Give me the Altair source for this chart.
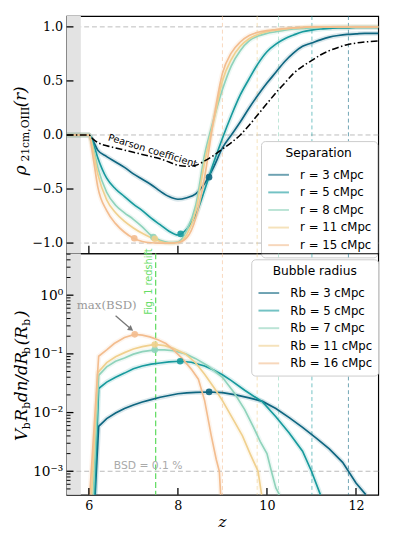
import altair as alt
import pandas as pd

# ---------------- data ----------------
Z_TOP = [5.5, 6.0, 6.1, 6.2, 6.4, 6.6, 6.8, 7.0, 7.2, 7.4, 7.6, 7.8, 8.0, 8.2, 8.4, 8.6, 8.8, 9.0,
         9.2, 9.4, 9.6, 9.8, 10.0, 10.2, 10.4, 10.6, 10.8, 11.0, 11.2, 11.4, 11.6, 11.8, 12.0, 12.2, 12.5]
PEARSON = [0, 0, -0.04, -0.07, -0.10, -0.12, -0.14, -0.16, -0.18, -0.20, -0.22, -0.25, -0.28, -0.29,
           -0.28, -0.24, -0.19, -0.13, -0.07, 0.0, 0.09, 0.19, 0.29, 0.39, 0.48, 0.57, 0.635, 0.687,
           0.74, 0.78, 0.81, 0.835, 0.85, 0.86, 0.87]
RHO_R3 = [0, 0, -0.06, -0.14, -0.20, -0.25, -0.30, -0.36, -0.41, -0.46, -0.52, -0.57, -0.595, -0.58,
          -0.545, -0.45, -0.30, -0.12, 0.0, 0.12, 0.25, 0.37, 0.48, 0.58, 0.68, 0.76, 0.82, 0.85,
          0.88, 0.905, 0.92, 0.93, 0.935, 0.94, 0.94]
RHO_R5 = [0, 0, -0.08, -0.21, -0.40, -0.50, -0.57, -0.64, -0.70, -0.77, -0.83, -0.89, -0.925, -0.87,
          -0.74, -0.51, -0.26, -0.03, 0.18, 0.37, 0.52, 0.66, 0.77, 0.84, 0.89, 0.925, 0.955, 0.97,
          0.98, 0.985, 0.99, 0.99, 0.995, 0.995, 0.995]
RHO_R8 = [0, 0, -0.12, -0.30, -0.53, -0.65, -0.72, -0.78, -0.85, -0.93, -0.975, -0.995, -0.99, -0.88,
          -0.65, -0.18, 0.14, 0.42, 0.64, 0.78, 0.87, 0.915, 0.94, 0.955, 0.97, 0.98, 0.985, 0.99,
          0.995, 1.0, 1.0, 1.0, 1.0, 1.0, 1.0]
RHO_R11 = [0, 0, -0.15, -0.36, -0.60, -0.72, -0.80, -0.86, -0.91, -0.95, -0.985, -1.0, -0.995, -0.92,
           -0.70, -0.25, 0.12, 0.50, 0.70, 0.82, 0.89, 0.93, 0.955, 0.97, 0.98, 0.99, 0.995, 1.0,
           1.0, 1.0, 1.0, 1.0, 1.0, 1.0, 1.0]
RHO_R15 = [0, 0, -0.22, -0.48, -0.70, -0.82, -0.90, -0.955, -0.985, -0.997, -1.0, -1.0, -0.995, -0.95,
           -0.77, -0.39, 0.14, 0.57, 0.76, 0.86, 0.92, 0.95, 0.965, 0.975, 0.985, 0.99, 0.995, 1.0,
           1.0, 1.0, 1.0, 1.0, 1.0, 1.0, 1.0]
TOP_LABELS = ["r = 3 cMpc", "r = 5 cMpc", "r = 8 cMpc", "r = 11 cMpc", "r = 15 cMpc"]
TOP_DOT_Z = [8.7, 8.06, 7.45, 7.48, 7.02]
TOP_DOT_V = [-0.39, -0.915, -0.945, -0.96, -0.955]

RB3_Z = [6.14, 6.22, 6.4, 6.6, 6.8, 7.0, 7.2, 7.4, 7.6, 7.8, 8.0, 8.2, 8.4, 8.7, 9.0, 9.3, 9.6, 9.9,
         10.2, 10.5, 10.8, 11.1, 11.4, 11.7, 12.0, 12.22]
RB3_V = [4.0e-4, 0.0058, 0.0079, 0.0098, 0.0117, 0.0135, 0.0151, 0.0166, 0.0182, 0.0195, 0.0209,
         0.0217, 0.0221, 0.0224, 0.0219, 0.0200, 0.0178, 0.0155, 0.0117, 0.0082, 0.0056, 0.0037,
         0.0024, 0.00142, 0.00063, 0.0004]
RB5_Z = [6.13, 6.22, 6.4, 6.6, 6.8, 7.0, 7.2, 7.4, 7.6, 7.8, 8.05, 8.3, 8.6, 8.8, 9.0, 9.2, 9.5, 9.9,
         10.2, 10.5, 10.8, 11.0, 11.2]
RB5_V = [4.0e-4, 0.0257, 0.033, 0.040, 0.047, 0.056, 0.062, 0.067, 0.070, 0.073, 0.075, 0.072, 0.062,
         0.053, 0.044, 0.035, 0.024, 0.0152, 0.0085, 0.0045, 0.0022, 0.0010, 0.0004]
RB7_Z = [6.1, 6.22, 6.4, 6.6, 6.8, 7.0, 7.2, 7.48, 7.7, 7.9, 8.17, 8.4, 8.68, 9.0, 9.26, 9.5, 9.7,
         9.85, 10.0, 10.1, 10.2, 10.28]
RB7_V = [4.0e-4, 0.043, 0.060, 0.075, 0.085, 0.099, 0.109, 0.117, 0.117, 0.113, 0.100, 0.083, 0.062,
         0.040, 0.022, 0.0112, 0.0056, 0.0032, 0.0020, 0.0010, 0.00052, 0.0004]
RB11_Z = [6.06, 6.2, 6.4, 6.6, 6.8, 7.0, 7.2, 7.48, 7.7, 7.9, 8.17, 8.4, 8.6, 8.82, 9.0, 9.26, 9.45,
          9.62, 9.8, 9.88]
RB11_V = [4.0e-4, 0.048, 0.071, 0.089, 0.105, 0.121, 0.133, 0.145, 0.138, 0.124, 0.100, 0.070, 0.045,
          0.026, 0.016, 0.0072, 0.0040, 0.0020, 0.0010, 0.0004]
RB16_Z = [6.02, 6.22, 6.4, 6.57, 6.8, 7.03, 7.2, 7.37, 7.55, 7.73, 7.9, 8.1, 8.3, 8.46, 8.6, 8.75,
          8.86, 8.93, 8.96]
RB16_V = [4.0e-4, 0.091, 0.117, 0.150, 0.190, 0.215, 0.209, 0.195, 0.174, 0.150, 0.117, 0.083, 0.055,
          0.037, 0.016, 0.0040, 0.0016, 0.0010, 0.0004]
BOT_LABELS = ["Rb = 3 cMpc", "Rb = 5 cMpc", "Rb = 7 cMpc", "Rb = 11 cMpc", "Rb = 16 cMpc"]
BOT_DOT_Z = [8.7, 8.05, 7.48, 7.48, 7.03]
BOT_DOT_V = [0.0225, 0.075, 0.117, 0.145, 0.215]

COLORS = ["#0e6680", "#179a9d", "#8fd3bb", "#f0d08e", "#f3bd8f"]
VLINE_Z = [9.0, 9.78, 10.26, 11.01, 11.83]
VLINE_C = ["#f3bd8f", "#f0d08e", "#8fd3bb", "#179a9d", "#0e6680"]

X_TICKS = [6, 8, 10, 12]
TOP_Y_TICKS = [-1.0, -0.5, 0.0, 0.5, 1.0]
TOP_HLINES = [1.0, 0.0, -1.0]
BOT_Y_TICKS = [0.001, 0.01, 0.1, 1.0]
BOT_Y_MINOR = [5e-4, 6e-4, 7e-4, 8e-4, 9e-4,
               2e-3, 3e-3, 4e-3, 5e-3, 6e-3, 7e-3, 8e-3, 9e-3,
               2e-2, 3e-2, 4e-2, 5e-2, 6e-2, 7e-2, 8e-2, 9e-2,
               0.2, 0.3, 0.4, 0.5, 0.6, 0.7, 0.8, 0.9,
               2.0, 3.0, 4.0, 5.0]
BAND = [5.5, 5.82]
FIG1_Z = 7.5
BSD_LEVEL = 0.001

# ---------------- layout ----------------
W = 319
H_TOP = 243
H_BOT = 247

xs = alt.Scale(domain=[5.5, 12.5], nice=False, zero=False)
ys_top = alt.Scale(domain=[-1.096, 1.1], nice=False, zero=False)
ys_bot = alt.Scale(type="log", domain=[3.98e-4, 5.14], nice=False)
col_top = alt.Scale(domain=TOP_LABELS, range=COLORS)
col_bot = alt.Scale(domain=BOT_LABELS, range=COLORS)

SERIF = "DejaVu Serif"
SANS = "DejaVu Sans"

TOP_YAXIS = alt.Axis(values=TOP_Y_TICKS, format=".1f", ticks=False, domain=False,
                     grid=False, labelFont=SERIF, labelFontSize=13, labelColor="black",
                     labelPadding=4, title=None)
BOT_XAXIS = alt.Axis(values=X_TICKS, format="d", ticks=False, domain=False, grid=False,
                     labelFont=SERIF, labelFontSize=13, labelColor="black",
                     labelPadding=5, title=None)
BOT_YAXIS = alt.Axis(values=BOT_Y_TICKS, ticks=False, domain=False, grid=False,
                     labelExpr="datum.value >= 0.5 ? '10⁰' : datum.value >= 0.05 ? '10⁻¹' : datum.value >= 0.005 ? '10⁻²' : '10⁻³'",
                     labelFont=SERIF, labelFontSize=14, labelColor="black",
                     labelPadding=4, title=None)


def XT(f):
    return alt.X(f, scale=xs, axis=None)


def XB(f):
    return alt.X(f, scale=xs, axis=BOT_XAXIS)


def YT(f):
    return alt.Y(f, scale=ys_top, axis=TOP_YAXIS)


def YB(f):
    return alt.Y(f, scale=ys_bot, axis=BOT_YAXIS)


one = pd.DataFrame({"a": [0]})


def label_piece(text, x, y, size, italic, align="left", angle=270):
    return alt.Chart(one).mark_text(
        text=text, angle=angle, align=align, baseline="alphabetic", font=SERIF,
        fontSize=size, fontStyle="italic" if italic else "normal", color="black"
    ).encode(x=alt.value(x), y=alt.value(y))


def legend(title, lx, ly):
    return alt.Legend(
        title=title, orient="none", legendX=lx, legendY=ly, fillColor="white",
        strokeColor="#cccccc", padding=6, cornerRadius=4, symbolType="stroke",
        symbolStrokeWidth=2, symbolSize=450, labelFont=SANS, labelFontSize=12,
        titleFont=SANS, titleFontSize=12.5, titleFontWeight="normal", titleAnchor="middle",
        rowPadding=-2, labelOffset=10, titlePadding=4, labelColor="black", titleColor="black"
    )


LEG_TOP = legend("Separation", 199, 128)
LEG_BOT = legend("Bubble radius", 189, 6)

# ---------------- top panel ----------------
top_rows = []
for lab, vals in zip(TOP_LABELS, [RHO_R3, RHO_R5, RHO_R8, RHO_R11, RHO_R15]):
    for z, v in zip(Z_TOP, vals):
        top_rows.append({"z": z, "v": v, "label": lab})
df_top = pd.DataFrame(top_rows)
df_pear = pd.DataFrame({"z": Z_TOP, "v": PEARSON})
df_vl = pd.DataFrame({"z": VLINE_Z, "c": VLINE_C})
df_band = pd.DataFrame({"z0": [BAND[0]], "z1": [BAND[1]]})

band_t = alt.Chart(df_band).mark_rect(color="#e3e3e3").encode(
    x=XT("z0:Q"), x2="z1:Q", y=alt.value(0), y2=alt.value(H_TOP))
hl_t = alt.Chart(pd.DataFrame({"v": TOP_HLINES})).mark_rule(
    color="#bbbbbb", strokeDash=[5, 3], strokeWidth=1).encode(y=YT("v:Q"))
vl_t = alt.Chart(df_vl).mark_rule(strokeDash=[4, 3], strokeWidth=1, opacity=0.6).encode(
    x=XT("z:Q"), color=alt.Color("c:N", scale=None))
halo_t = alt.Chart(df_top).mark_line(strokeWidth=5, opacity=0.15, interpolate="monotone").encode(
    x=XT("z:Q"), y=YT("v:Q"), color=alt.Color("label:N", scale=col_top, legend=LEG_TOP))
lines_t = alt.Chart(df_top).mark_line(strokeWidth=1.7, interpolate="monotone").encode(
    x=XT("z:Q"), y=YT("v:Q"), color=alt.Color("label:N", scale=col_top, legend=LEG_TOP))
pear_t = alt.Chart(df_pear).mark_line(color="black", strokeWidth=1.6,
                                      strokeDash=[7, 2.5, 1.5, 2.5],
                                      interpolate="monotone").encode(x=XT("z:Q"), y=YT("v:Q"))
dots_t = alt.Chart(pd.DataFrame({"z": TOP_DOT_Z, "v": TOP_DOT_V, "c": COLORS})).mark_circle(
    size=45, opacity=0.9).encode(x=XT("z:Q"), y=YT("v:Q"), color=alt.Color("c:N", scale=None))
ptxt_t = alt.Chart(pd.DataFrame({"z": [7.43], "v": [-0.148]})).mark_text(
    text="Pearson coefficient", angle=17, font=SANS, fontSize=10, color="black").encode(
    x=XT("z:Q"), y=YT("v:Q"))
ytick_t = alt.Chart(pd.DataFrame({"v": TOP_Y_TICKS})).mark_rule(color="black", strokeWidth=1.3).encode(
    y=YT("v:Q"), x=alt.value(0), x2=alt.value(7))
xtick_t = alt.Chart(pd.DataFrame({"v": X_TICKS})).mark_rule(color="black", strokeWidth=1.3).encode(
    x=XT("v:Q"), y=alt.value(H_TOP - 8), y2=alt.value(H_TOP))
title_t = [
    label_piece("ρ", -42, 163, 17, True),
    label_piece("21cm,OIII", -38, 149, 11, False),
    label_piece("(r)", -42, 72, 17, True, align="right"),
]

top = alt.layer(hl_t, band_t, vl_t, halo_t, lines_t, pear_t, dots_t, ptxt_t, ytick_t, xtick_t,
                *title_t).properties(width=W, height=H_TOP)

# ---------------- bottom panel ----------------
bot_rows = []
for lab, zs, vs in zip(BOT_LABELS, [RB3_Z, RB5_Z, RB7_Z, RB11_Z, RB16_Z],
                       [RB3_V, RB5_V, RB7_V, RB11_V, RB16_V]):
    for z, v in zip(zs, vs):
        bot_rows.append({"z": z, "v": v, "label": lab})
df_bot = pd.DataFrame(bot_rows)

band_b = alt.Chart(df_band).mark_rect(color="#e3e3e3").encode(
    x=XB("z0:Q"), x2="z1:Q", y=alt.value(0), y2=alt.value(H_BOT))
hl_b = alt.Chart(pd.DataFrame({"v": [BSD_LEVEL]})).mark_rule(
    color="#bbbbbb", strokeDash=[5, 3], strokeWidth=1.2).encode(y=YB("v:Q"))
vl_b = alt.Chart(df_vl).mark_rule(strokeDash=[4, 3], strokeWidth=1, opacity=0.6).encode(
    x=XB("z:Q"), color=alt.Color("c:N", scale=None))
fig1_b = alt.Chart(pd.DataFrame({"z": [FIG1_Z]})).mark_rule(
    color="#66dd66", strokeDash=[6, 3], strokeWidth=1.3).encode(x=XB("z:Q"))
halo_b = alt.Chart(df_bot).mark_line(strokeWidth=5, opacity=0.15).encode(
    x=XB("z:Q"), y=YB("v:Q"), color=alt.Color("label:N", scale=col_bot, legend=LEG_BOT))
lines_b = alt.Chart(df_bot).mark_line(strokeWidth=1.7).encode(
    x=XB("z:Q"), y=YB("v:Q"), color=alt.Color("label:N", scale=col_bot, legend=LEG_BOT))
dots_b = alt.Chart(pd.DataFrame({"z": BOT_DOT_Z, "v": BOT_DOT_V, "c": COLORS})).mark_circle(
    size=45, opacity=0.9).encode(x=XB("z:Q"), y=YB("v:Q"), color=alt.Color("c:N", scale=None))
bsd_txt = alt.Chart(pd.DataFrame({"z": [7.33], "v": [0.00124]})).mark_text(
    text="BSD = 0.1 %", font=SANS, fontSize=11, color="#aaaaaa", baseline="middle").encode(
    x=XB("z:Q"), y=YB("v:Q"))
max_txt = alt.Chart(pd.DataFrame({"z": [6.4], "v": [0.676]})).mark_text(
    text="max(BSD)", font=SERIF, fontSize=12, color="#999999", baseline="middle").encode(
    x=XB("z:Q"), y=YB("v:Q"))
arrow_l = alt.Chart(pd.DataFrame({"z": [6.6], "v": [0.445], "z2": [6.92], "v2": [0.275]})).mark_rule(
    color="#777777", strokeWidth=1.3).encode(x=XB("z:Q"), y=YB("v:Q"), x2="z2:Q", y2="v2:Q")
arrow_h = alt.Chart(pd.DataFrame({"z": [6.93], "v": [0.27]})).mark_point(
    shape="triangle", filled=True, size=40, angle=127, color="#777777", opacity=1).encode(
    x=XB("z:Q"), y=YB("v:Q"))
fig1_txt = alt.Chart(pd.DataFrame({"z": [FIG1_Z], "v": [1.7]})).mark_text(
    text="Fig. 1 redshift", angle=270, font=SANS, fontSize=10, color="#66dd66",
    baseline="bottom", dy=-2).encode(x=XB("z:Q"), y=YB("v:Q"))
ytick_b = alt.Chart(pd.DataFrame({"v": BOT_Y_TICKS})).mark_rule(color="black", strokeWidth=1.3).encode(
    y=YB("v:Q"), x=alt.value(0), x2=alt.value(7))
ymin_b = alt.Chart(pd.DataFrame({"v": BOT_Y_MINOR})).mark_rule(
    color="black", strokeWidth=1).encode(y=YB("v:Q"), x=alt.value(0), x2=alt.value(4))
xtick_b = alt.Chart(pd.DataFrame({"v": X_TICKS})).mark_rule(color="black", strokeWidth=1.3).encode(
    x=XB("v:Q"), y=alt.value(H_BOT - 7), y2=alt.value(H_BOT))
title_b = [
    label_piece("V", -41, 192, 17, True),
    label_piece("b", -37, 180, 11, False),
    label_piece("R", -41, 172, 17, True),
    label_piece("b", -37, 159, 11, False),
    label_piece("dn/dR", -41, 152, 17, True),
    label_piece("b", -37, 103, 11, False),
    label_piece("(R", -41, 94, 17, True),
    label_piece("b", -37, 74, 11, False),
    label_piece(")", -41, 65, 17, True),
]
z_title = alt.Chart(one).mark_text(
    text="z", font=SERIF, fontStyle="italic", fontSize=16, color="black", align="center",
    baseline="alphabetic").encode(x=alt.value(W / 2), y=alt.value(H_BOT + 33))

bottom = alt.layer(band_b, hl_b, vl_b, fig1_b, halo_b, lines_b, dots_b, bsd_txt, max_txt, arrow_l,
                   arrow_h, fig1_txt, ytick_b, ymin_b, xtick_b, z_title, *title_b).properties(
    width=W, height=H_BOT)

chart = alt.vconcat(top, bottom, spacing=0, bounds="flush").resolve_scale(
    y="independent", color="independent").resolve_legend(color="independent").properties(
    padding={"left": 3, "top": 0, "right": 0, "bottom": 0}).configure_view(
    stroke="black", strokeWidth=1.2)

chart.save("out.html", embed_options={"renderer": "svg", "actions": False})
